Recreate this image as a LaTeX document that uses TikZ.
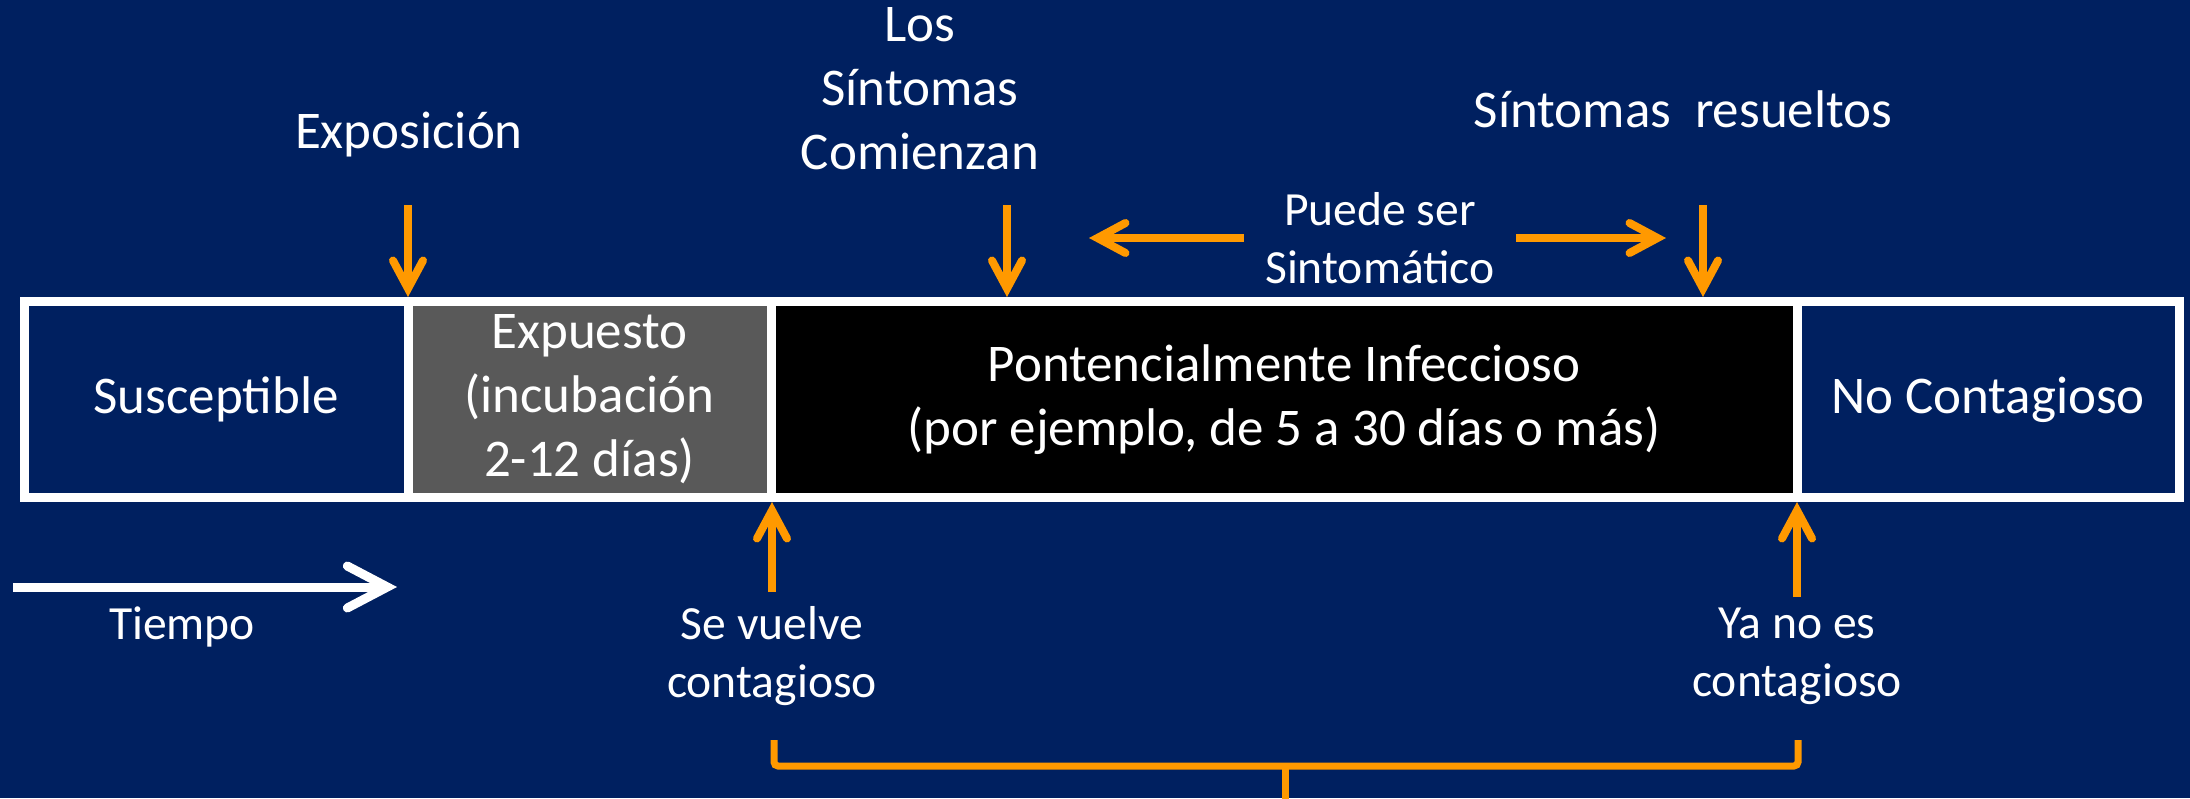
\documentclass[tikz,border=0pt]{standalone}
\usepackage{fontspec}
\setmainfont{Carlito}
\usetikzlibrary{arrows.meta}

\definecolor{navy}{HTML}{002060}
\definecolor{stagegray}{HTML}{595959}
\definecolor{arrorange}{HTML}{FF9900}

\tikzset{
	stage/.style={draw=white, line width=9pt, minimum height=196pt, inner sep=0pt,
		outer xsep=0pt, outer ysep=4.5pt, align=center, text=white, font=\fontsize{53}{64}\selectfont},
	lbl/.style={text=white, align=center, font=\fontsize{53}{64}\selectfont},
	smalllbl/.style={text=white, align=center, font=\fontsize{47.6}{58}\selectfont},
	oarr/.style={draw=arrorange, line width=8pt, -{Straight Barb[length=28pt,width=30pt,line cap=round]}}
}

\begin{document}
\begin{tikzpicture}[x=1pt, y=-1pt]
			\useasboundingbox[fill=navy] (0,0) rectangle (2190,798);

			%Stages
			\node[stage, fill=navy, minimum width=384pt] (susc) at (216,399.5) {Susceptible};
			\node[stage, fill=stagegray, minimum width=363pt] (expu) at (589.5,399.5) {Expuesto\\(incubación\\2-12 días)};
			\node[stage, fill=black, minimum width=1026pt] (infec) at (1284,399.5) {Pontencialmente Infeccioso\\(por ejemplo, de 5 a 30 días o más)};
			\node[stage, fill=navy, minimum width=382pt] (nocont) at (1988,399.5) {No Contagioso};

			%Events above
			\node[lbl] (expo) at (409,135) {Exposición};
			\node[lbl] (scom) at (920,89) {Los\\Síntomas\\Comienzan};
			\node[lbl] (sres) at (1683,109) {Síntomas~~resueltos};
			\foreach \n/\x in {dexpo/408, dscom/1007, dsres/1703} {
				\coordinate (\n) at (\x,205);
				\draw[oarr] (\n) -- (\n |- infec.north);
			}

			%Symptomatic span
			\node[smalllbl, inner xsep=21pt] (puede) at (1380,238) {Puede ser\\Sintomático};
			\coordinate (pl) at (1089,238);
			\coordinate (pr) at (1666,238);
			\draw[oarr] (puede.west) -- (pl);
			\draw[oarr] (puede.east) -- (pr);

			%Events below
			\node[smalllbl] (sevu) at (772,656) {Se vuelve\\contagioso};
			\node[smalllbl] (yano) at (1797,656) {Ya no es\\contagioso};
			\foreach \n/\x/\y in {ucont/772/592, uno/1797/597} {
				\coordinate (\n) at (\x,\y);
				\draw[oarr] (\n) -- (\n |- infec.south);
			}

			%Time
			\coordinate (t0) at (13,587);
			\coordinate (t1) at (397,587);
			\draw[white, line width=9pt, -{Straight Barb[length=40pt,width=42pt,line cap=round]}] (t0) -- (t1);
			\node[smalllbl] (tiem) at (182,627) {Tiempo};

			%Bracket
			\draw[arrorange, line width=7pt, rounded corners=4pt] (774,740) -- (774,766) -- (1798,766) -- (1798,740);
			\draw[arrorange, line width=7pt] (1285,766) -- (1285,800);
\end{tikzpicture}
\end{document}
